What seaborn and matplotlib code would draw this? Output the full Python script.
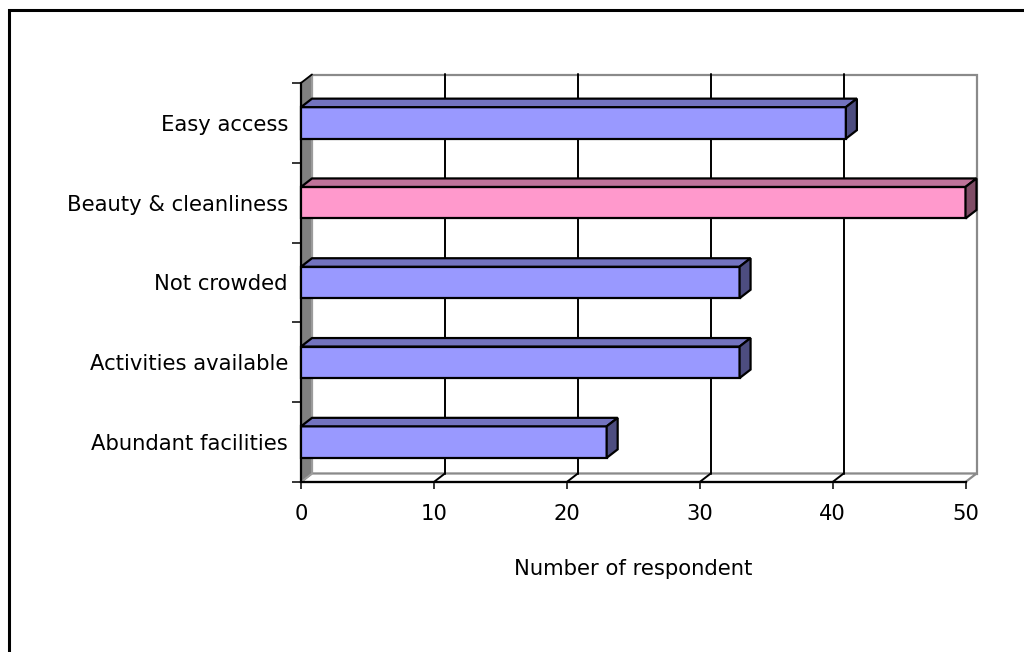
import matplotlib
matplotlib.use("Agg")
import matplotlib.pyplot as plt
from matplotlib.patches import Polygon, Rectangle
import numpy as np
import pandas as pd
import seaborn as sns

# Survey results
categories = ["Easy access", "Beauty & cleanliness", "Not crowded",
              "Activities available", "Abundant facilities"]
respondents = [41, 50, 33, 33, 23]
x_ticks = [0, 10, 20, 30, 40, 50]
x_label = "Number of respondent"
highlight = "Beauty & cleanliness"

# (front, top, side) face colours of the 3D bars
BLUE = ("#9999FF", "#7373BF", "#4D4D80")
PINK = ("#FF99CC", "#BF7399", "#804D66")
shades = {c: (PINK if c == highlight else BLUE) for c in categories}

sns.set_theme(style="white")
plt.rcParams["font.family"] = ["DejaVu Sans"]
plt.rcParams["text.color"] = "black"
FS = 15.2

fig = plt.figure(figsize=(10.24, 6.52), dpi=100)
ax = fig.add_axes([301 / 1024, 170 / 652, 664.5 / 1024, 399 / 652])

df = pd.DataFrame({"category": categories, "respondents": respondents})
sns.barplot(data=df, x="respondents", y="category", hue="category",
            order=categories, hue_order=categories,
            palette={c: shades[c][0] for c in categories},
            width=0.395, saturation=1, edgecolor="black", linewidth=1.6,
            legend=False, ax=ax, zorder=3)
bars = list(ax.patches)

n = len(categories)
XMAX = x_ticks[-1]
ax.set_xlim(0, XMAX)
ax.set_ylim(n - 0.5, -0.5)

# depth of the 3D box (pixels) expressed in data units
DX_PX, DY_PX = 11, 8.5
ext = ax.get_window_extent()
ddx = DX_PX * XMAX / ext.width
ddy = DY_PX * n / ext.height

y_top, y_bot = -0.5, n - 0.5
edge_grey = "#8a8a8a"

# back wall
ax.add_patch(Rectangle((ddx, y_top - ddy), XMAX, n, facecolor="white",
                       edgecolor=edge_grey, lw=1.6, zorder=0.5, clip_on=False))
# floor
ax.add_patch(Polygon([(0, y_bot), (ddx, y_bot - ddy), (XMAX + ddx, y_bot - ddy), (XMAX, y_bot)],
                     closed=True, facecolor="white", edgecolor=edge_grey, lw=1.6,
                     zorder=0.6, clip_on=False))
# left side wall
ax.add_patch(Polygon([(0, y_top), (ddx, y_top - ddy), (ddx, y_bot - ddy), (0, y_bot)],
                     closed=True, facecolor="#808080", edgecolor="#a0a0a0", lw=1.2,
                     zorder=0.7, clip_on=False))
ax.plot([0, ddx], [y_top, y_top - ddy], color="black", lw=1.3, zorder=0.9, clip_on=False)

# gridlines on the back wall and across the floor
for v in x_ticks[1:-1]:
    ax.plot([v + ddx, v + ddx], [y_top - ddy, y_bot - ddy], color="black", lw=1.4,
            zorder=0.8, clip_on=False)
    ax.plot([v, v + ddx], [y_bot, y_bot - ddy], color="black", lw=1.4,
            zorder=0.8, clip_on=False)

# top and side faces of each bar
for bar in bars:
    x0, y0, w, h = bar.get_x(), bar.get_y(), bar.get_width(), bar.get_height()
    bar.set_clip_on(False)
    cat = categories[int(round(y0 + h / 2))]
    _, top_c, side_c = shades[cat]
    y_up, y_dn = min(y0, y0 + h), max(y0, y0 + h)
    x1 = x0 + w
    ax.add_patch(Polygon([(x0, y_up), (x0 + ddx, y_up - ddy), (x1 + ddx, y_up - ddy), (x1, y_up)],
                         closed=True, facecolor=top_c, edgecolor="black", lw=1.6,
                         joinstyle="miter", zorder=3, clip_on=False))
    ax.add_patch(Polygon([(x1, y_up), (x1 + ddx, y_up - ddy), (x1 + ddx, y_dn - ddy), (x1, y_dn)],
                         closed=True, facecolor=side_c, edgecolor="black", lw=1.6,
                         joinstyle="miter", zorder=3, clip_on=False))

# axes, ticks and labels
ax.set_xticks(x_ticks)
ax.set_xticklabels([str(t) for t in x_ticks])
ax.set_yticks(range(n))
ax.set_yticklabels(categories)
ax.set_yticks(np.arange(-0.5, n), minor=True)
ax.tick_params(axis="y", which="major", length=0, pad=9.4, labelsize=FS, labelcolor="black")
ax.tick_params(axis="y", which="minor", left=True, length=6.5, width=1.1, color="black")
ax.tick_params(axis="x", which="major", bottom=True, length=5, width=1.1, color="black",
               pad=11, labelsize=FS, labelcolor="black")
ax.set_xlabel(x_label, fontsize=FS, labelpad=25, color="black")
ax.set_ylabel("")
sns.despine(ax=ax, top=True, right=True)
for side in ("left", "bottom"):
    ax.spines[side].set_color("black")
    ax.spines[side].set_linewidth(1.6)
    ax.spines[side].set_zorder(2.6)

# outer chart frame
fig.add_artist(Rectangle((8.7 / 1024, -0.1), 1.2, 1 - 9.7 / 652 + 0.1,
                         transform=fig.transFigure, fill=False,
                         edgecolor="black", lw=2.2))

fig.savefig("out.png", dpi=100)
